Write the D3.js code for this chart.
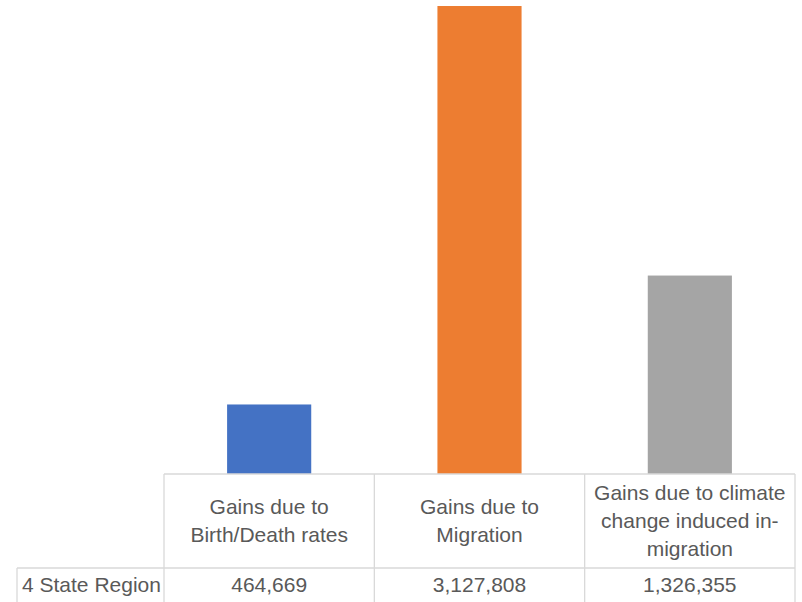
<!DOCTYPE html>
<html>
<head>
<meta charset="utf-8">
<script src="https://cdn.jsdelivr.net/npm/d3@7/dist/d3.min.js"></script>
<style>
  html, body { margin: 0; padding: 0; background: #fff; }
  svg { display: block; }
  text { font-family: "Liberation Sans", Arial, sans-serif; fill: #595959; }
</style>
</head>
<body>
<svg id="chart" width="802" height="602"></svg>
<script>
// Population gains by source, 4 State Region
const categories = ["birth", "migration", "climate"];
const headerLines = [
  ["Gains due to", "Birth/Death rates"],
  ["Gains due to", "Migration"],
  ["Gains due to climate", "change induced in-", "migration"]
];
const seriesName = "4 State Region";
const values = [464669, 3127808, 1326355];
const colors = ["#4472C4", "#ED7D31", "#A5A5A5"];

const svg = d3.select("#chart");
const tableLeft = 17, colLeft = 164, right = 795;
const baseY = 474, headerBottom = 568, tableBottom = 602;

const x = d3.scaleBand().domain(categories).range([colLeft, right]).padding(0);
const y = d3.scaleLinear().domain([0, 3168000]).range([baseY, 0]);
const barW = x.bandwidth() * 0.4;

// Bars
svg.append("g").selectAll("rect")
  .data(categories)
  .join("rect")
  .attr("x", (d) => x(d) + (x.bandwidth() - barW) / 2)
  .attr("y", (d, i) => y(values[i]))
  .attr("width", barW)
  .attr("height", (d, i) => y(0) - y(values[i]))
  .attr("fill", (d, i) => colors[i]);

// Data table grid
const grid = svg.append("g").attr("stroke", "#d9d9d9").attr("stroke-width", 1.3).attr("fill", "none");
grid.append("line").attr("x1", colLeft).attr("x2", right).attr("y1", baseY).attr("y2", baseY);
grid.append("line").attr("x1", tableLeft).attr("x2", right).attr("y1", headerBottom).attr("y2", headerBottom);
grid.append("line").attr("x1", tableLeft).attr("x2", tableLeft).attr("y1", headerBottom).attr("y2", tableBottom);
const vlines = categories.map((d) => x(d)).concat([right]);
grid.selectAll("line.v")
  .data(vlines)
  .join("line")
  .attr("class", "v")
  .attr("x1", (d) => d).attr("x2", (d) => d)
  .attr("y1", baseY).attr("y2", tableBottom);

// Header labels
const fs = 21, lh = 28;
const headerMid = (baseY + headerBottom) / 2;
const heads = svg.append("g").attr("font-size", fs).attr("text-anchor", "middle");
categories.forEach((c, i) => {
  const lines = headerLines[i];
  const y0 = headerMid - (lines.length - 1) * lh / 2;
  lines.forEach((t, j) => {
    heads.append("text")
      .attr("x", x(c) + x.bandwidth() / 2)
      .attr("y", y0 + j * lh)
      .attr("dy", "0.35em")
      .text(t);
  });
});

// Value row
const rowY = 585;
svg.append("text")
  .attr("x", tableLeft + 5)
  .attr("y", rowY)
  .attr("dy", "0.35em")
  .attr("font-size", fs)
  .text(seriesName);
const fmt = d3.format(",");
svg.append("g").attr("font-size", fs).attr("text-anchor", "middle")
  .selectAll("text")
  .data(categories)
  .join("text")
  .attr("x", (d) => x(d) + x.bandwidth() / 2)
  .attr("y", rowY)
  .attr("dy", "0.35em")
  .text((d, i) => fmt(values[i]));
</script>
</body>
</html>
